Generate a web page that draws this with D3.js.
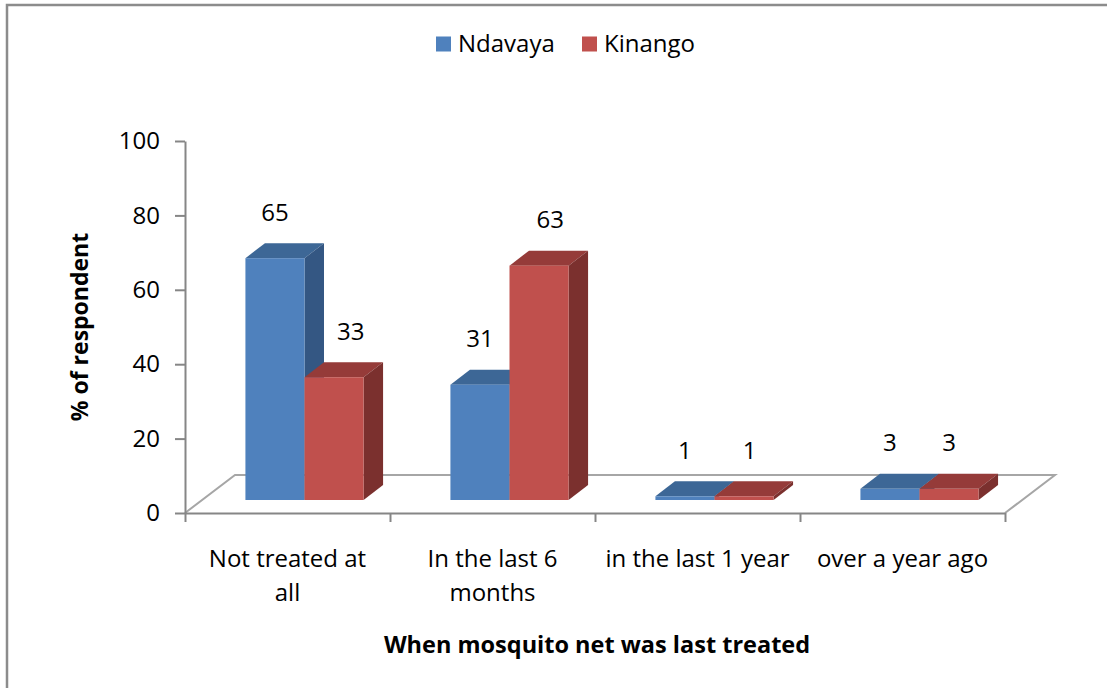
<!DOCTYPE html>
<html>
<head>
<meta charset="utf-8">
<script src="https://cdn.jsdelivr.net/npm/d3@7"></script>
<style>
  body { margin: 0; background: #fff; }
  text { font-family: "Open Sans", sans-serif; }
</style>
</head>
<body>
<svg id="chart" width="1107" height="688"></svg>
<script>
// chart data
const categories = [["Not treated at", "all"], ["In the last 6", "months"], ["in the last 1 year"], ["over a year ago"]];
const seriesNames = ["Ndavaya", "Kinango"];
const ndavaya = [65, 31, 1, 3];
const kinango = [33, 63, 1, 3];
const yTicks = [0, 20, 40, 60, 80, 100];

const values = [ndavaya, kinango];
const colors = [
	{front: "#4f81bd", top: "#3d6796", side: "#345783"},
	{front: "#c0504d", top: "#953b39", side: "#7b302e"}
];

const svg = d3.select("#chart");
const W = 1107, H = 688;

// outer frame (only left and top edges are in view)
svg.append("path")
	.attr("d", `M7,${H + 5}V5H${W + 5}`)
	.attr("fill", "none")
	.attr("stroke", "#8c8c8c")
	.attr("stroke-width", 2.5);

const left = 185, right = 1005, base = 513;

// floor depth vector and bar depth (perspective-ish)
const floorD = {x: 50, y: -38};
const frontD = {x: 17, y: -13};   // where bar front face sits
const barD = {x: 19.5, y: -15};   // bar depth

const y = d3.scaleLinear().domain([0, 100]).range([base, 141]);

const xCat = d3.scaleBand()
	.domain(d3.range(categories.length))
	.range([left, right])
	.padding(0);

const xSer = d3.scaleBand()
	.domain(d3.range(seriesNames.length))
	.range([0, xCat.bandwidth()])
	.paddingInner(0)
	.paddingOuter(0.735);

// floor
const floor = svg.append("g")
	.attr("fill", "none")
	.attr("stroke", "#a6a6a6")
	.attr("stroke-width", 2);
floor.append("path")
	.attr("d", `M${left},${base}L${left + floorD.x},${base + floorD.y}H${right + floorD.x}L${right},${base}`);

// y axis
const yAxis = svg.append("g")
	.attr("transform", `translate(${left},0)`)
	.call(d3.axisLeft(y).tickValues(yTicks).tickSize(10).tickPadding(15).tickSizeOuter(0));
yAxis.select(".domain").attr("stroke", "#868686").attr("stroke-width", 2);
yAxis.selectAll(".tick line").attr("stroke", "#868686").attr("stroke-width", 2);
yAxis.selectAll(".tick text")
	.attr("font-size", 24)
	.attr("font-family", "Open Sans, sans-serif")
	.attr("fill", "#000");

// x axis (category boundaries)
const xEdge = d3.scaleLinear().domain([0, categories.length]).range([left, right]);
const xAxis = svg.append("g")
	.attr("transform", `translate(0,${base})`)
	.call(d3.axisBottom(xEdge).tickValues(d3.range(categories.length + 1)).tickFormat("").tickSize(9).tickSizeOuter(0));
xAxis.select(".domain").attr("stroke", "#868686").attr("stroke-width", 2);
xAxis.selectAll(".tick line").attr("stroke", "#868686").attr("stroke-width", 2);

// bars
const bars = [];
categories.forEach((c, i) => {
	seriesNames.forEach((s, j) => {
		bars.push({cat: i, ser: j, value: values[j][i]});
	});
});

const yBase = base + frontD.y;
const barG = svg.append("g");
bars.forEach(b => {
	const x0 = xCat(b.cat) + xSer(b.ser) + frontD.x;
	const x1 = x0 + xSer.bandwidth();
	const yTop = y(b.value) + frontD.y;
	const col = colors[b.ser];
	const g = barG.append("g");
	g.append("path")
		.attr("d", `M${x0},${yTop}L${x1},${yTop}L${x1 + barD.x},${yTop + barD.y}L${x0 + barD.x},${yTop + barD.y}Z`)
		.attr("fill", col.top);
	g.append("path")
		.attr("d", `M${x1},${yTop}L${x1 + barD.x},${yTop + barD.y}L${x1 + barD.x},${yBase + barD.y}L${x1},${yBase}Z`)
		.attr("fill", col.side);
	g.append("rect")
		.attr("x", x0).attr("y", yTop)
		.attr("width", x1 - x0).attr("height", yBase - yTop)
		.attr("fill", col.front);
	b.cx = (x0 + x1) / 2;
	b.yTop = yTop;
});

// value labels
svg.append("g")
	.selectAll("text").data(bars).enter()
	.append("text")
	.attr("x", d => d.cx + d.ser * (955 - d.cx) * 0.027)
	.attr("y", d => d.yTop - 46)
	.attr("dy", "0.35em")
	.attr("text-anchor", "middle")
	.attr("font-size", 24)
	.attr("fill", "#000")
	.text(d => d.value);

// category labels
const catLabels = svg.append("g")
	.selectAll("text").data(categories).enter()
	.append("text")
	.attr("text-anchor", "middle")
	.attr("font-size", 24)
	.attr("fill", "#000");
catLabels.selectAll("tspan").data((d, i) => d.map(t => ({t, i}))).enter()
	.append("tspan")
	.attr("x", d => xCat(d.i) + xCat.bandwidth() / 2)
	.attr("y", (d, k) => 567 + k * 34)
	.text(d => d.t);

// axis titles
svg.append("text")
	.attr("x", 597).attr("y", 645)
	.attr("dy", "0.35em")
	.attr("text-anchor", "middle")
	.attr("font-size", 23.5)
	.attr("font-weight", "bold")
	.text("When mosquito net was last treated");

svg.append("text")
	.attr("transform", "translate(80,327) rotate(-90)")
	.attr("dy", "0.35em")
	.attr("text-anchor", "middle")
	.attr("font-size", 23)
	.attr("font-weight", "bold")
	.text("% of respondent");

// legend
const legend = svg.append("g").attr("transform", "translate(436,44)");
const legX = [0, 146];
seriesNames.forEach((s, j) => {
	const lg = legend.append("g").attr("transform", `translate(${legX[j]},0)`);
	lg.append("rect")
		.attr("x", 0).attr("y", -7.5)
		.attr("width", 15).attr("height", 15)
		.attr("fill", colors[j].front);
	lg.append("text")
		.attr("x", 22).attr("dy", "0.35em")
		.attr("font-size", 24)
		.attr("fill", "#000")
		.text(s);
});
</script>
</body>
</html>
